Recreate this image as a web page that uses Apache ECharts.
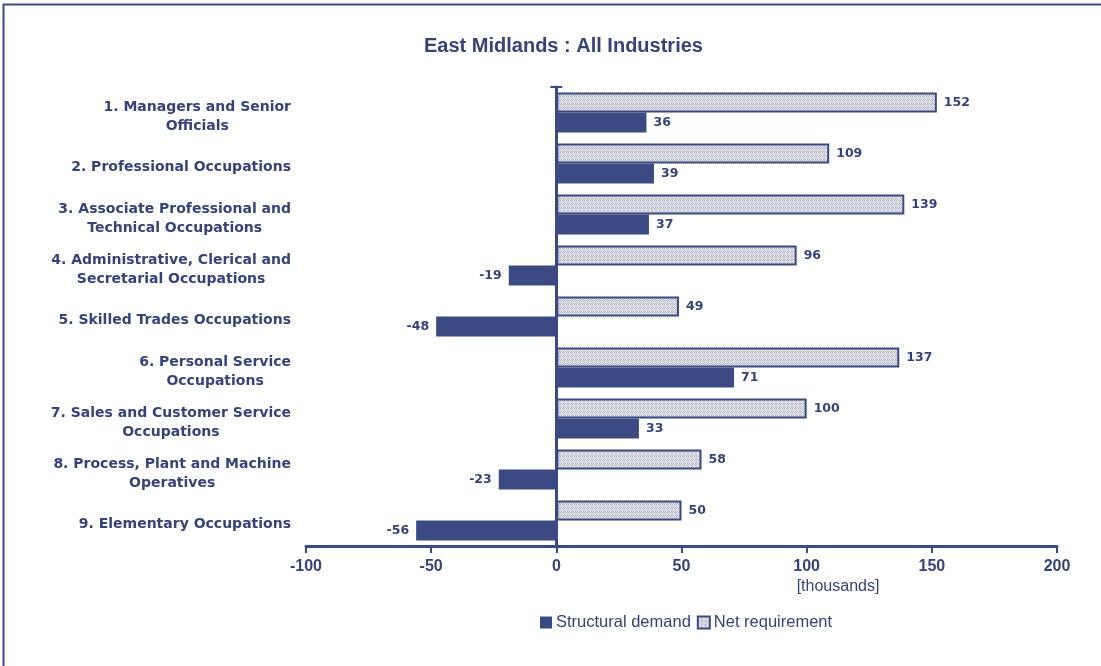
<!DOCTYPE html>
<html>
<head>
<meta charset="utf-8">
<title>East Midlands : All Industries</title>
<script src="https://cdn.jsdelivr.net/npm/echarts@6/dist/echarts.min.js"></script>
<style>
  html, body { margin: 0; padding: 0; background: #ffffff; }
  #chart { width: 1101px; height: 666px; }
</style>
</head>
<body>
<div id="chart"></div>
<script>
// Occupation groups (each entry's lines are drawn centred on one another)
const categories = [
  ['1. Managers and Senior', 'Officials'],
  ['2. Professional Occupations'],
  ['3. Associate Professional and', 'Technical Occupations'],
  ['4. Administrative, Clerical and', 'Secretarial Occupations'],
  ['5. Skilled Trades Occupations'],
  ['6. Personal Service', 'Occupations'],
  ['7. Sales and Customer Service', 'Occupations'],
  ['8. Process, Plant and Machine', 'Operatives'],
  ['9. Elementary Occupations']
];
// Values in thousands
const structuralDemand = [36, 39, 37, -19, -48, 71, 33, -23, -56];
const netRequirement = [152, 109, 139, 96, 49, 137, 100, 58, 50];
const xTicks = { min: -100, max: 200, interval: 50 };

const NAVY = '#3b4a82';
const INK = '#36437a';

// Stippled fill used for the net requirement bars
function stipple() {
  const c = document.createElement('canvas');
  c.width = 4; c.height = 4;
  const g = c.getContext('2d');
  g.fillStyle = '#e4e4ea';
  g.fillRect(0, 0, 4, 4);
  g.fillStyle = '#b4b6c4';
  [[0,0],[2,0],[1,1],[3,1],[0,2],[2,2],[1,3],[3,3]].forEach(function (p, i) {
    if (i % 3 !== 2) g.fillRect(p[0], p[1], 1, 1);
  });
  return { image: c, repeat: 'repeat' };
}

const catNames = categories.map(function (lines) { return lines.join('\n'); });

function withLabels(values) {
  return values.map(function (v) {
    return { value: v, label: { position: v < 0 ? 'left' : 'right' } };
  });
}

const chart = echarts.init(document.getElementById('chart'), null, { renderer: 'canvas' });

const catFont = {
  fontFamily: 'DejaVu Sans',
  fontWeight: 'bold',
  fontSize: 14,
  color: INK
};
const valueFont = {
  fontFamily: 'DejaVu Sans',
  fontWeight: 'bold',
  fontSize: 12.5,
  color: INK
};

chart.setOption({
  animation: false,
  backgroundColor: '#ffffff',
  title: {
    text: 'East Midlands : All Industries',
    left: 419,
    top: 31,
    textStyle: { fontFamily: 'Liberation Sans', fontWeight: 'bold', fontSize: 20, color: INK }
  },
  legend: {
    left: 535,
    top: 609,
    icon: 'rect',
    itemWidth: 12,
    itemHeight: 12,
    itemGap: 6,
    data: ['Structural demand', 'Net requirement'],
    textStyle: { fontFamily: 'Liberation Sans', fontSize: 16.5, color: INK, padding: [0, 0, 0, -1] }
  },
  grid: { left: 306, right: 44, top: 87, bottom: 120, outerBoundsMode: 'none', containLabel: false },
  xAxis: {
    type: 'value',
    min: xTicks.min,
    max: xTicks.max,
    interval: xTicks.interval,
    splitLine: { show: false },
    axisLine: { show: true, lineStyle: { color: NAVY, width: 3 } },
    axisTick: { show: true, length: 7, lineStyle: { color: NAVY, width: 2 } },
    axisLabel: {
      margin: 13,
      fontFamily: 'Liberation Sans',
      fontWeight: 'bold',
      fontSize: 16,
      color: INK
    }
  },
  yAxis: {
    type: 'category',
    inverse: true,
    data: catNames,
    axisLine: { show: true, onZero: true, lineStyle: { color: NAVY, width: 3 } },
    axisTick: { show: false },
    axisLabel: {
      margin: 15,
      padding: [8, 0, 0, 0],
      formatter: function (v) {
        return v.split('\n').map(function (s) { return '{c|' + s + '}'; }).join('\n');
      },
      rich: {
        c: Object.assign({ align: 'center', lineHeight: 19 }, catFont)
      }
    }
  },
  series: [
    {
      name: 'Net requirement',
      type: 'bar',
      data: withLabels(netRequirement),
      barWidth: 20,
      barGap: '0%',
      itemStyle: { color: stipple(), borderColor: NAVY, borderWidth: 2 },
      label: Object.assign({ show: true, distance: 7 }, valueFont)
    },
    {
      name: 'Structural demand',
      type: 'bar',
      data: withLabels(structuralDemand),
      barWidth: 20,
      barGap: '0%',
      itemStyle: { color: NAVY },
      label: Object.assign({ show: true, distance: 7 }, valueFont)
    }
  ]
});

// Frame lines, unit note and top cap of the category axis
const gridRect = chart.getModel().getComponent('grid', 0).coordinateSystem.getRect();
const x0 = chart.convertToPixel({ xAxisIndex: 0 }, 0);
const x100 = chart.convertToPixel({ xAxisIndex: 0 }, 100);
chart.setOption({
  graphic: [
    { type: 'line', shape: { x1: 3, y1: 4.5, x2: 1101, y2: 4.5 }, style: { stroke: NAVY, lineWidth: 2 } },
    { type: 'line', shape: { x1: 3.5, y1: 4, x2: 3.5, y2: 666 }, style: { stroke: NAVY, lineWidth: 2 } },
    { type: 'line', shape: { x1: x0 - 6, y1: gridRect.y, x2: x0 + 6, y2: gridRect.y }, style: { stroke: NAVY, lineWidth: 2 } },
    {
      type: 'text',
      left: x100 - 10,
      top: 579,
      style: { text: '[thousands]', fontFamily: 'Liberation Sans', fontSize: 16, fill: INK }
    }
  ]
});
</script>
</body>
</html>
